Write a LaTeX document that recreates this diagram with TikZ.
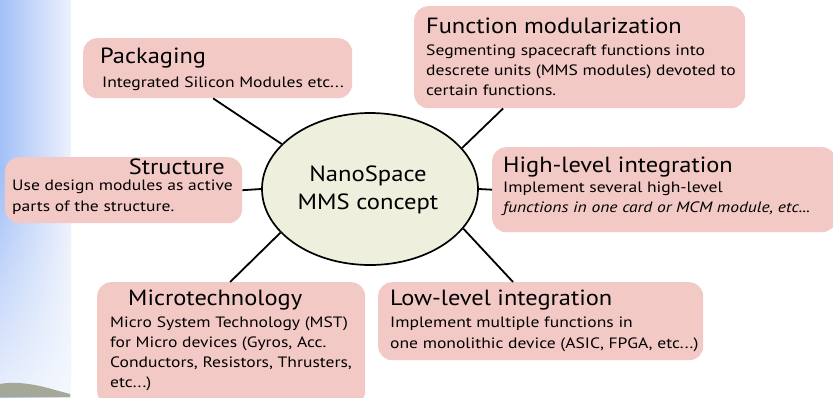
\documentclass[tikz,border=0pt]{standalone}
\usepackage{fontspec}
\setmainfont{PT Sans}
\newfontfamily\ttlfont[FakeStretch=1.11]{PT Sans}
\newfontfamily\bdyfont[FakeStretch=1.17]{PT Sans}
\newfontfamily\ellfont[FakeStretch=1.12]{PT Sans}
\usetikzlibrary{shapes.geometric,calc,fadings}
\definecolor{boxpink}{HTML}{F3C9C5}
\definecolor{ellfill}{HTML}{EEEFDC}
\definecolor{bgblue}{HTML}{A4C0F8}
\definecolor{bgpale}{HTML}{ECF1FC}
\definecolor{rock}{HTML}{A6A897}
\tikzset{
  box/.style={fill=boxpink, rounded corners=14pt, inner sep=0pt, anchor=north west},
  ttl/.style={anchor=base west, inner sep=0pt, font=\ttlfont\fontsize{22}{26}\selectfont},
  bdy/.style={anchor=base west, inner sep=0pt, font=\bdyfont\fontsize{15}{20}\selectfont},
  link/.style={line width=1.8pt, black},
}
\begin{document}
\begin{tikzpicture}[x=1pt,y=-1pt]
\useasboundingbox (0,0) rectangle (833,397);
\fill[white] (0,0) rectangle (833,397);
% left background strip
\shade[left color=bgblue, right color=bgpale] (0,0) rectangle (71,397);
\fill[white!90!bgblue, path fading=north, opacity=0.85] (0,170) rectangle (71,397);
\fill[rock] (0,384) .. controls (15,381) and (35,384) .. (55,390) -- (70,394) -- (70,397) -- (0,397) -- cycle;
\begin{scope}
\clip (0,0) rectangle (833,397);
% boxes
\node[box, minimum width=269pt, minimum height=60pt] (pk) at (83,38) {};
\node[box, minimum width=331pt, minimum height=102pt] (fm) at (414,6) {};
\node[box, minimum width=237pt, minimum height=66pt] (st) at (5,157) {};
\node[box, minimum width=344pt, minimum height=85pt] (hl) at (492,147) {};
\node[box, minimum width=268pt, minimum height=123pt] (mt) at (97,282) {};
\node[box, minimum width=325pt, minimum height=78pt] (ll) at (378,282) {};
\end{scope}
% centre ellipse
\node[ellipse, draw, line width=1.7pt, fill=ellfill, minimum width=216pt, minimum height=152pt, inner sep=0pt] (ell) at (370,189) {};
\node[align=center, inner sep=0pt, font=\ellfont\fontsize{22}{28}\selectfont] (elltxt) at (368,190) {NanoSpace\\MMS concept};
% connectors
\draw[link] ($(pk.south west)!0.483!(pk.south east)$) -- (ell.153);
\draw[link] ($(fm.south west)!0.269!(fm.south east)$) -- (ell.24);
\draw[link] (st.east) -- (ell.180);
\draw[link] (hl.west) -- (ell.0);
\draw[link] ($(mt.north west)!0.496!(mt.north east)$) -- (ell.206);
\draw[link] ($(ll.north west)!0.415!(ll.north east)$) -- (ell.337);
% texts
\node[ttl] (pkt) at (100,63) {Packaging};
\node[bdy] (pkb) at (102,87) {Integrated Silicon Modules etc...};
\node[ttl] (fmt) at (426,33) {Function modularization};
\node[bdy] (fmb1) at (426,55) {Segmenting spacecraft functions into};
\node[bdy] (fmb2) at (426,75) {descrete units (MMS modules) devoted to};
\node[bdy] (fmb3) at (426,95) {certain functions.};
\node[ttl, anchor=base east] (stt) at (225,174) {Structure};
\node[bdy] (stb1) at (12,190) {Use design modules as active};
\node[bdy] (stb2) at (12,211) {parts of the structure.};
\node[ttl] (hlt) at (503,172) {High-level integration};
\node[bdy] (hlb1) at (503,192) {Implement several high-level};
\node[bdy] (hlb2) at (503,212) {\itshape functions in one card or MCM module, etc...};
\node[ttl] (mtt) at (128,305) {Microtechnology};
\node[bdy] (mtb1) at (110,327) {Micro System Technology (MST)};
\node[bdy] (mtb2) at (110,347) {for Micro devices (Gyros, Acc.};
\node[bdy] (mtb3) at (110,367) {Conductors, Resistors, Thrusters,};
\node[bdy] (mtb4) at (110,387) {etc...)};
\node[ttl] (llt) at (390,305) {Low-level integration};
\node[bdy] (llb1) at (390,327) {Implement multiple functions in};
\node[bdy] (llb2) at (390,348) {one monolithic device (ASIC, FPGA, etc...)};
\end{tikzpicture}
\end{document}
